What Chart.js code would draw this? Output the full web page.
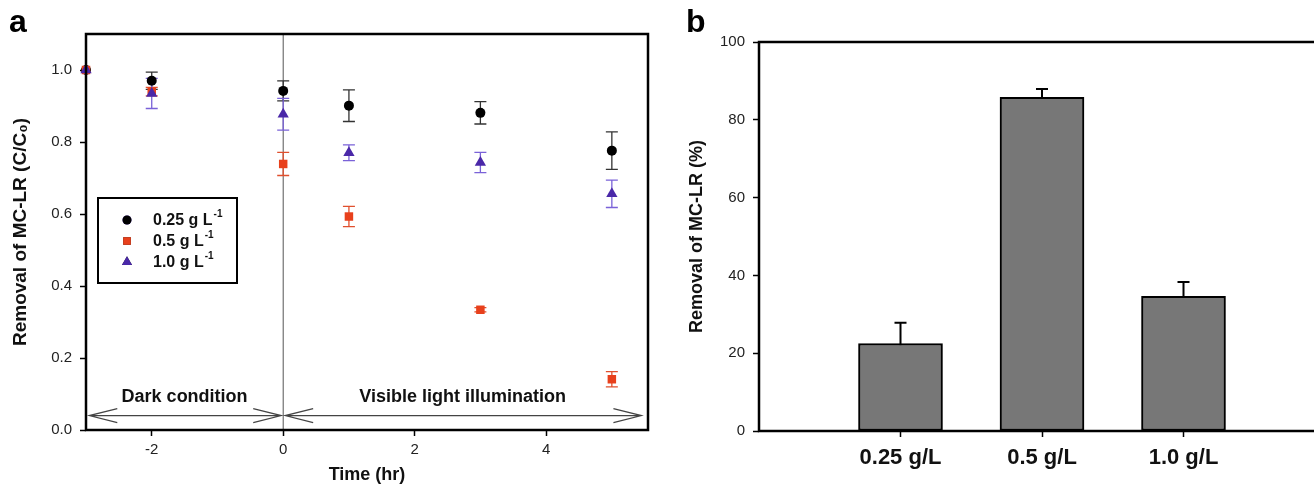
<!DOCTYPE html>
<html>
<head>
<meta charset="utf-8">
<script src="https://cdn.jsdelivr.net/npm/chart.js@4.4.0/dist/chart.umd.min.js"></script>
<style>
  html, body { margin: 0; padding: 0; background: #fff; overflow: hidden; }
  body { width: 1314px; height: 486px; position: relative; font-family: "Liberation Sans", Arial, sans-serif; }
  .panel { position: absolute; top: 0; height: 486px; }
  #wrapA { left: 0; width: 660px; }
  #wrapB { left: 660px; width: 680px; }
  .tag { position: absolute; font-weight: bold; font-size: 32px; color: #000; }
</style>
</head>
<body>
<div class="panel" id="wrapA"><canvas id="chartA" width="660" height="486"></canvas></div>
<div class="panel" id="wrapB"><canvas id="chartB" width="680" height="486"></canvas></div>
<div class="tag" style="left:9px;top:3px">a</div>
<div class="tag" style="left:686px;top:3px">b</div>
<script>
// panel a: C/C0 over time
const times = [-3, -2, 0, 1, 3, 5];
const c025 = [1.0, 0.970, 0.942, 0.901, 0.881, 0.776];
const c025Err = [0, 0.024, 0.028, 0.044, 0.031, 0.052];
const c05 = [1.0, 0.940, 0.739, 0.593, 0.334, 0.141];
const c05Err = [0, 0.012, 0.032, 0.028, 0.006, 0.021];
const c10 = [1.0, 0.935, 0.877, 0.770, 0.743, 0.656];
const c10Err = [0, 0.042, 0.044, 0.022, 0.028, 0.038];
const seriesNames = ['0.25 g L', '0.5 g L', '1.0 g L'];

// phase annotations (data units)
const phaseLabels = ['Dark condition', 'Visible light illumination'];
const phaseFrom = [-2.95, 0.03];
const phaseTo = [-0.03, 5.45];
const phaseTextX = [-1.5, 2.73];
const phaseArrowY = 0.04;
const phaseTextY = 0.092;

// panel b: removal %
const barLabels = ['0.25 g/L', '0.5 g/L', '1.0 g/L'];
const barValues = [22.5, 85.8, 34.6];
const barErr = [5.3, 2.1, 3.7];

const FONT = '"Liberation Sans", Arial, sans-serif';
Chart.defaults.font.family = FONT;
Chart.defaults.color = '#222';
Chart.defaults.animation = false;

const toPoints = vals => times.map((t, i) => ({ x: t, y: vals[i] }));

const styleA = [
  { pointStyle: 'circle', radius: 5, color: '#000', err: '#333' },
  { pointStyle: 'rect', radius: 6, color: '#e8401c', err: '#e0502e' },
  { pointStyle: 'triangle', radius: 6.5, color: '#4a28a8', err: '#7a62d8' }
];

const errorBarsA = {
  id: 'errorBarsA',
  beforeDatasetsDraw(chart) {
    const { ctx, chartArea: ca, scales: { x, y } } = chart;
    ctx.save();
    // time zero divider
    ctx.strokeStyle = '#555';
    ctx.lineWidth = 1;
    ctx.beginPath();
    ctx.moveTo(x.getPixelForValue(0), ca.top);
    ctx.lineTo(x.getPixelForValue(0), ca.bottom);
    ctx.stroke();

    // phase arrows + text
    const ay = y.getPixelForValue(phaseArrowY);
    ctx.strokeStyle = '#444';
    ctx.lineWidth = 1.2;
    phaseLabels.forEach((lab, i) => {
      const x1 = x.getPixelForValue(phaseFrom[i]), x2 = x.getPixelForValue(phaseTo[i]);
      ctx.beginPath();
      ctx.moveTo(x1, ay); ctx.lineTo(x2, ay);
      ctx.moveTo(x1 + 28, ay - 7); ctx.lineTo(x1, ay); ctx.lineTo(x1 + 28, ay + 7);
      ctx.moveTo(x2 - 28, ay - 7); ctx.lineTo(x2, ay); ctx.lineTo(x2 - 28, ay + 7);
      ctx.stroke();
      ctx.fillStyle = '#111';
      ctx.font = 'bold 18px ' + FONT;
      ctx.textAlign = 'center';
      ctx.textBaseline = 'middle';
      ctx.fillText(lab, x.getPixelForValue(phaseTextX[i]), y.getPixelForValue(phaseTextY));
    });

    // error bars
    chart.data.datasets.forEach((ds, di) => {
      const meta = chart.getDatasetMeta(di);
      ctx.strokeStyle = ds.errColor;
      ctx.lineWidth = 1.3;
      meta.data.forEach((pt, i) => {
        const e = ds.err[i];
        if (!e) return;
        const v = ds.data[i].y;
        const top = y.getPixelForValue(v + e), bot = y.getPixelForValue(v - e);
        ctx.beginPath();
        ctx.moveTo(pt.x, top); ctx.lineTo(pt.x, bot);
        ctx.moveTo(pt.x - 6, top); ctx.lineTo(pt.x + 6, top);
        ctx.moveTo(pt.x - 6, bot); ctx.lineTo(pt.x + 6, bot);
        ctx.stroke();
      });
    });
    ctx.restore();
  },
  afterDraw(chart) {
    const { ctx, chartArea: ca } = chart;
    ctx.save();
    ctx.strokeStyle = '#000';
    ctx.lineWidth = 2.5;
    ctx.strokeRect(ca.left, ca.top, ca.right - ca.left, ca.bottom - ca.top);

    // legend box
    const bx = ca.left + 12, by = ca.top + 164;
    ctx.lineWidth = 2;
    ctx.strokeRect(bx, by, 139, 85);
    seriesNames.forEach((name, i) => {
      const st = styleA[i];
      const yy = by + 22 + i * 21;
      Chart.helpers.drawPoint(ctx, {
        pointStyle: st.pointStyle, radius: st.radius * 0.9, rotation: 0, borderWidth: 0
      }, bx + 29, yy);
      ctx.fillStyle = st.color;
      ctx.fill();
      ctx.fillStyle = '#111';
      ctx.font = 'bold 16px ' + FONT;
      ctx.textAlign = 'left';
      ctx.textBaseline = 'middle';
      ctx.fillText(name, bx + 55, yy + 1);
      const w = ctx.measureText(name).width;
      ctx.font = 'bold 10px ' + FONT;
      ctx.fillText('-1', bx + 56 + w, yy - 6);
    });
    ctx.restore();
  }
};

new Chart(document.getElementById('chartA'), {
  type: 'scatter',
  data: {
    datasets: [c025, c05, c10].map((vals, i) => ({
      label: seriesNames[i],
      data: toPoints(vals),
      err: [c025Err, c05Err, c10Err][i],
      errColor: styleA[i].err,
      pointStyle: styleA[i].pointStyle,
      pointRadius: styleA[i].radius,
      pointBackgroundColor: styleA[i].color,
      pointBorderColor: styleA[i].color,
      pointBorderWidth: 0,
      order: 3 - i,
      clip: false
    }))
  },
  options: {
    responsive: false,
    layout: { padding: { left: 0, top: 34, right: 12, bottom: 0 } },
    plugins: { legend: { display: false }, tooltip: { enabled: false } },
    scales: {
      x: {
        type: 'linear', min: -3, max: 5.55,
        afterFit: s => { s.height = 56; },
        ticks: { stepSize: 2, includeBounds: false, font: { size: 15 }, color: '#222', padding: 5, maxRotation: 0 },
        grid: { drawOnChartArea: false, drawTicks: true, tickLength: 6, tickColor: '#000', tickWidth: 1.5 },
        border: { display: false },
        title: { display: true, text: 'Time (hr)', font: { size: 18, weight: 'bold' }, color: '#111', padding: { top: 0, bottom: 0 } }
      },
      y: {
        min: 0, max: 1.1,
        afterFit: s => { s.width = 86; },
        ticks: { stepSize: 0.2, includeBounds: false, font: { size: 15 }, color: '#222', padding: 8, callback: v => v.toFixed(1) },
        grid: { drawOnChartArea: false, drawTicks: true, tickLength: 6, tickColor: '#000', tickWidth: 1.5 },
        border: { display: false },
        title: { display: true, text: 'Removal of MC-LR (C/C\u2080)', font: { size: 19, weight: 'bold' }, color: '#111', padding: { top: 9, bottom: 0 } }
      }
    }
  },
  plugins: [errorBarsA]
});

// panel b
const errorBarsB = {
  id: 'errorBarsB',
  beforeDatasetsDraw(chart) {
    const { ctx, scales: { y } } = chart;
    const meta = chart.getDatasetMeta(0);
    ctx.save();
    ctx.strokeStyle = '#000';
    ctx.lineWidth = 2;
    barValues.forEach((v, i) => {
      const bar = meta.data[i + 1];
      const top = y.getPixelForValue(v + barErr[i]), bot = y.getPixelForValue(v - barErr[i]);
      ctx.beginPath();
      ctx.moveTo(bar.x, top); ctx.lineTo(bar.x, bot);
      ctx.moveTo(bar.x - 6, top); ctx.lineTo(bar.x + 6, top);
      ctx.stroke();
    });
    ctx.restore();
  },
  afterDraw(chart) {
    const { ctx, chartArea: ca } = chart;
    ctx.save();
    ctx.strokeStyle = '#000';
    ctx.lineWidth = 2.5;
    ctx.strokeRect(ca.left, ca.top, ca.right - ca.left, ca.bottom - ca.top);
    ctx.restore();
  }
};

new Chart(document.getElementById('chartB'), {
  type: 'bar',
  data: {
    labels: ['', ...barLabels, ''],
    datasets: [{
      data: [null, ...barValues, null],
      backgroundColor: '#777777',
      borderColor: '#000',
      borderWidth: 2,
      borderSkipped: false,
      barThickness: 84
    }]
  },
  options: {
    responsive: false,
    layout: { padding: { left: 0, top: 42, right: 15, bottom: 0 } },
    plugins: { legend: { display: false }, tooltip: { enabled: false } },
    scales: {
      x: {
        offset: false,
        afterFit: s => { s.height = 55; },
        ticks: { font: { size: 22, weight: 'bold' }, color: '#111', padding: 8, maxRotation: 0, autoSkip: false },
        grid: {
          offset: false, drawOnChartArea: false, drawTicks: true, tickLength: 6, tickWidth: 1.5,
          tickColor: c => (c.tick && c.tick.label) ? '#000' : 'rgba(0,0,0,0)'
        },
        border: { display: false }
      },
      y: {
        min: 0, max: 100,
        afterFit: s => { s.width = 99; },
        ticks: { stepSize: 20, font: { size: 15 }, color: '#222', padding: 8 },
        grid: { drawOnChartArea: false, drawTicks: true, tickLength: 6, tickColor: '#000', tickWidth: 1.5 },
        border: { display: false },
        title: { display: true, text: 'Removal of MC-LR (%)', font: { size: 18, weight: 'bold' }, color: '#111', padding: { top: 26, bottom: 0 } }
      }
    }
  },
  plugins: [errorBarsB]
});
</script>
</body>
</html>
